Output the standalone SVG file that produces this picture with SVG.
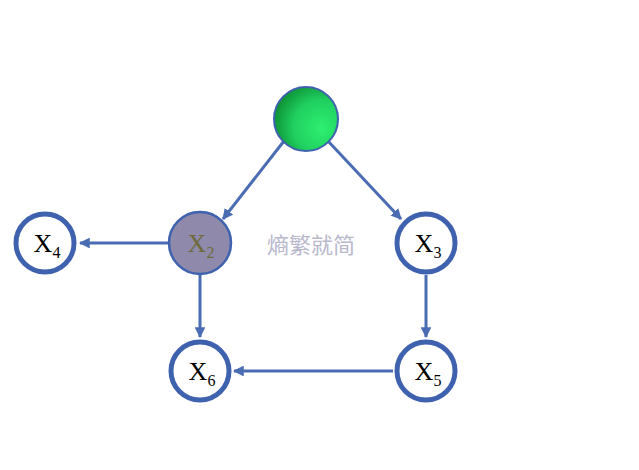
<svg xmlns="http://www.w3.org/2000/svg" width="639" height="470" viewBox="0 0 639 470">
<defs>
<radialGradient id="g" cx="0.7" cy="0.6" r="0.75" fx="0.75" fy="0.65">
<stop offset="0" stop-color="#2EF070"/>
<stop offset="0.55" stop-color="#20D060"/>
<stop offset="1" stop-color="#0C8A30"/>
</radialGradient>
<marker id="ah" viewBox="0 0 10 10" refX="9" refY="5" markerWidth="3.6" markerHeight="3.6" orient="auto" markerUnits="strokeWidth">
<path d="M0,0 L10,5 L0,10 Z" fill="#4A6CB3"/>
</marker>
<style>
.ring{fill:#fff;stroke:#3F62AE;stroke-width:5}
.edge{stroke:#4A6CB3;stroke-width:3;fill:none;marker-end:url(#ah)}
.lbl{font-family:"Liberation Serif","Times New Roman",serif;font-size:26px;fill:#000}
.sub{font-size:16px}
</style>
</defs>
<rect width="639" height="470" fill="#fff"/>
<g id="connectors">
<line class="edge" x1="284" y1="141" x2="223" y2="219"/>
<line class="edge" x1="328" y1="141" x2="401" y2="219"/>
<line class="edge" x1="168" y1="243" x2="80" y2="243"/>
<line class="edge" x1="200" y1="275" x2="200" y2="337"/>
<line class="edge" x1="426" y1="275" x2="426" y2="337"/>
<line class="edge" x1="393" y1="371" x2="234" y2="371"/>
</g>
<g id="top">
<circle cx="306" cy="119" r="32" fill="url(#g)" stroke="#3F62AE" stroke-width="2"/>
</g>
<g id="x2">
<circle cx="200" cy="243" r="31" fill="#8F8AAB" stroke="#3F62AE" stroke-width="2.5"/>
<text class="lbl" x="201" y="252" text-anchor="middle" style="fill:#6E6A3A">X<tspan class="sub" dy="6">2</tspan></text>
</g>
<g id="x4">
<circle class="ring" cx="45" cy="243" r="29"/>
<text class="lbl" x="47" y="252" text-anchor="middle">X<tspan class="sub" dy="6">4</tspan></text>
</g>
<g id="x3">
<circle class="ring" cx="426" cy="243" r="29"/>
<text class="lbl" x="428" y="252" text-anchor="middle">X<tspan class="sub" dy="6">3</tspan></text>
</g>
<g id="x6">
<circle class="ring" cx="200" cy="371" r="29"/>
<text class="lbl" x="202" y="380" text-anchor="middle">X<tspan class="sub" dy="6">6</tspan></text>
</g>
<g id="x5">
<circle class="ring" cx="426" cy="371" r="29"/>
<text class="lbl" x="428" y="380" text-anchor="middle">X<tspan class="sub" dy="6">5</tspan></text>
</g>
<g id="caption">
<text x="311" y="253" text-anchor="middle" font-family="'Noto Sans CJK SC',sans-serif" font-size="22" fill="#B8B8CC">熵繁就简</text>
</g>
</svg>
